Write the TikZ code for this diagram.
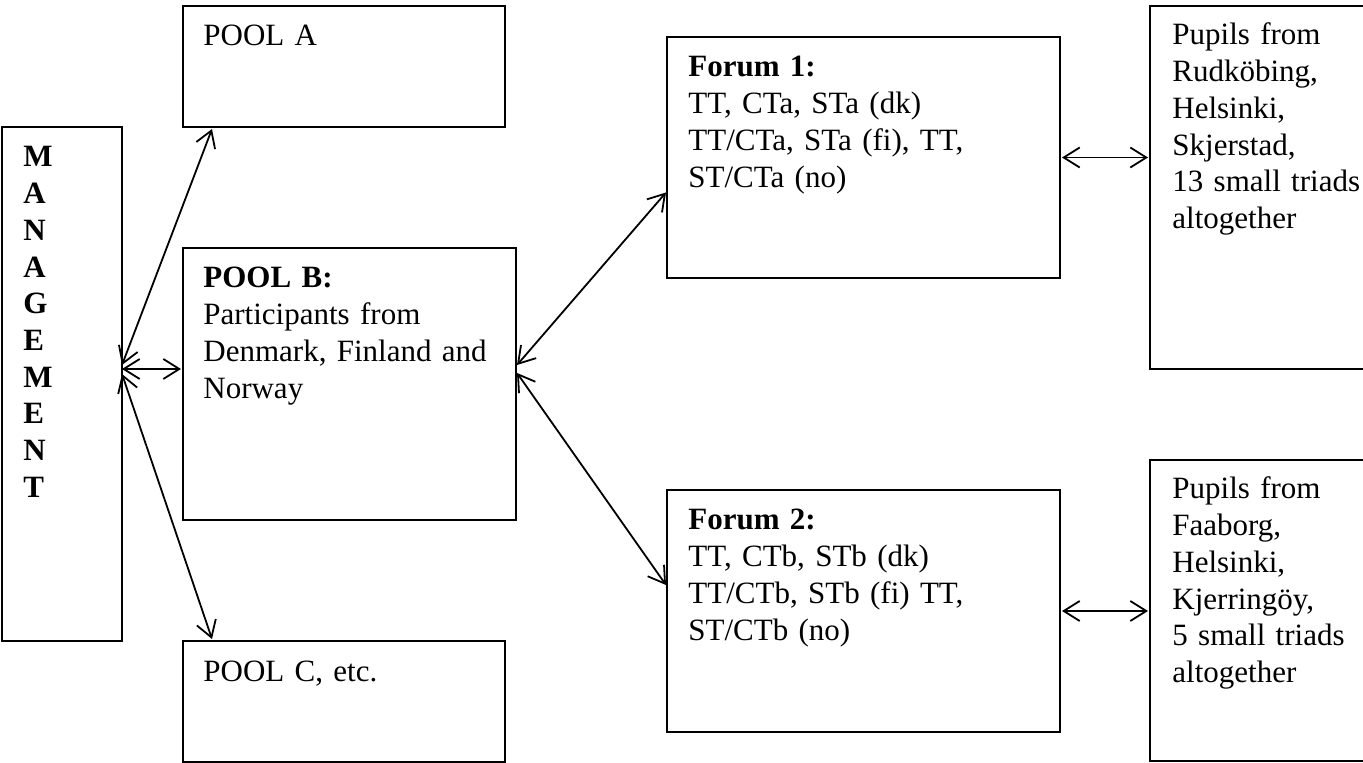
\documentclass[tikz,border=0pt]{standalone}
\usepackage{fontspec}
\setmainfont{Liberation Serif}
\usetikzlibrary{arrows.meta,calc,positioning}
\tikzset{
  box/.style={draw,line width=0.9pt,anchor=north west,inner sep=0pt,outer sep=0pt},
  boxtext/.style={anchor=base west,inner sep=0pt,text width=#1,align=left,
    font=\fontsize{15.5}{18.35}\selectfont},
  boxtext/.default=160pt,
  link/.style={<->,line width=0.9pt,>={Straight Barb[length=8pt,width=10pt]}}
}

\begin{document}
\begin{tikzpicture}[x=0.5pt,y=-0.5pt]
  \path[use as bounding box,clip] (0,0) rectangle (1363,763);

  % boxes (coordinates in pixels, y downwards)
  \node[box,minimum width=60pt,minimum height=257pt] (mgmt) at (2,127) {};
  \node[box,minimum width=161pt,minimum height=60.5pt] (poolA) at (183,6) {};
  \node[box,minimum width=166.5pt,minimum height=136pt] (poolB) at (183,248) {};
  \node[box,minimum width=161pt,minimum height=60.5pt] (poolC) at (183,641) {};
  \node[box,minimum width=196.5pt,minimum height=120.5pt] (forum1) at (667,37) {};
  \node[box,minimum width=196.5pt,minimum height=121pt] (forum2) at (667,490) {};
  \node[box,minimum width=120pt,minimum height=181.5pt] (pupils1) at (1150,6) {};
  \node[box,minimum width=120pt,minimum height=150.5pt] (pupils2) at (1150,460) {};

  % texts
  \node[boxtext=30pt] (mgmttxt) at ($(mgmt.north west)+(21,40)$)
    {\bfseries M\\A\\N\\A\\G\\E\\M\\E\\N\\T};
  \node[boxtext] (poolAtxt) at ($(poolA.north west)+(20,40)$) {POOL A};
  \node[boxtext] (poolBtxt) at ($(poolB.north west)+(20,40)$)
    {\textbf{POOL B:}\\Participants from\\Denmark, Finland and\\Norway};
  \node[boxtext] (poolCtxt) at ($(poolC.north west)+(20,40)$) {POOL C, etc.};
  \node[boxtext=180pt] (forum1txt) at ($(forum1.north west)+(21,40)$)
    {\textbf{Forum 1:}\\TT, CTa, STa (dk)\\TT/CTa, STa (fi), TT,\\ST/CTa (no)};
  \node[boxtext=180pt] (forum2txt) at ($(forum2.north west)+(21,40)$)
    {\textbf{Forum 2:}\\TT, CTb, STb (dk)\\TT/CTb, STb (fi) TT,\\ST/CTb (no)};
  \node[boxtext=110pt] (pupils1txt) at ($(pupils1.north west)+(22,39)$)
    {Pupils from\\Rudköbing,\\Helsinki,\\Skjerstad,\\13 small triads\\altogether};
  \node[boxtext=110pt] (pupils2txt) at ($(pupils2.north west)+(22,39)$)
    {Pupils from\\Faaborg,\\Helsinki,\\Kjerringöy,\\5 small triads\\altogether};

  % connector ends
  \coordinate (hubA) at ($(mgmt.east)+(0,-19)$);
  \coordinate (hubB) at ($(mgmt.east)+(0,-15)$);
  \coordinate (hubC) at ($(mgmt.east)+(0,-10)$);
  \coordinate (poolAin) at ($(poolA.south west)+(29,2)$);
  \coordinate (poolCin) at ($(poolC.north west)+(29,-2)$);
  \coordinate (poolBout1) at ($(poolB.east)+(1,-19)$);
  \coordinate (poolBout2) at ($(poolB.east)+(1,-11)$);
  \coordinate (forum1in) at ($(forum1.west)+(-1,35)$);
  \coordinate (forum2in) at ($(forum2.west)+(-1,-26)$);

  % connectors
  \draw[link] (hubA) -- (poolAin);
  \draw[link] (hubB) -- ([xshift=-1pt]poolB.west |- hubB);
  \draw[link] (hubC) -- (poolCin);
  \draw[link] (poolBout1) -- (forum1in);
  \draw[link] (poolBout2) -- (forum2in);
  \draw[link] ([xshift=1pt]forum1.east) -- ([xshift=-1pt]pupils1.west |- forum1.east);
  \draw[link] ([xshift=1pt]forum2.east) -- ([xshift=-1pt]pupils2.west |- forum2.east);
\end{tikzpicture}
\end{document}
